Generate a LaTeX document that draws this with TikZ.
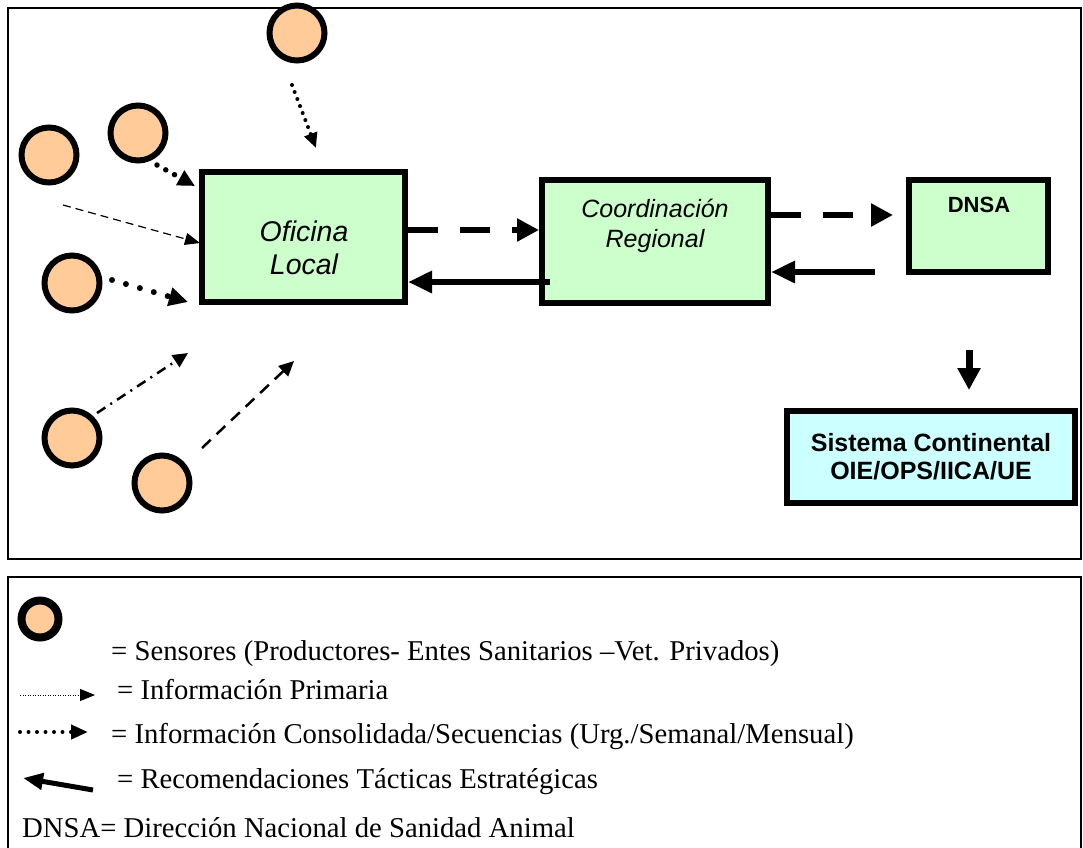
\documentclass[tikz,border=0pt]{standalone}
\usepackage{fontspec}
\setmainfont{Liberation Serif}
\setsansfont{Liberation Sans}
\usetikzlibrary{arrows.meta}
\definecolor{officegreen}{HTML}{CCFFCC}
\definecolor{continentcyan}{HTML}{CCFFFF}
\definecolor{sensorpeach}{HTML}{FFCC99}
\tikzset{sensor/.style={
    circle, draw, fill=sensorpeach,
    line width=6pt,
    minimum size=#1,
    inner sep=0pt
  },
  sensor/.default=55pt,
  unit box/.style={draw, line width=6pt, fill=officegreen, inner sep=0pt},
  unit text/.style={font=\sffamily\itshape, align=center, inner sep=0pt},
  frame/.style={draw, line width=2.8pt},
  dot flow/.style={line width=#1, line cap=round, dash pattern=on 0pt off 2.6*#1},
  big dash/.style={line width=6pt, dash pattern=on 30pt off 22pt,
    -{Triangle[length=22pt,width=22pt]}},
  advice/.style={line width=6pt, -{Triangle[length=24pt,width=21pt]}},
  key text/.style={anchor=base west, inner sep=0pt, font=\fontsize{28.7}{32}\selectfont}
}
\begin{document}
\begin{tikzpicture}[x=1pt,y=-1pt]
  \useasboundingbox (0,0) rectangle (1083,847);
  % frames
  \draw[frame] (8,8) rectangle (1081,559);
  \draw[frame] (8,577) rectangle (1081,870);
  % sensors
  \node[sensor] (s1) at (297,33) {};
  \node[sensor] (s2) at (138,133) {};
  \node[sensor] (s3) at (49,155) {};
  \node[sensor] (s4) at (72,283) {};
  \node[sensor] (s5) at (72,438) {};
  \node[sensor] (s6) at (162,483) {};
  % units
  \node[unit box, minimum width=203pt, minimum height=130pt] (oficina) at (303.5,237) {};
  \node[unit text, font=\sffamily\itshape\fontsize{28.5}{33}\selectfont] (oficinatext) at (304,248) {Oficina\\Local};
  \node[unit box, minimum width=226pt, minimum height=123pt] (coord) at (655,241.5) {};
  \node[unit text, font=\sffamily\itshape\fontsize{25}{30}\selectfont] (coordtext) at (655,226) {Coordinación\\Regional};
  \node[unit box, minimum width=139pt, minimum height=92pt] (dnsa) at (978.5,226) {};
  \node[unit text, font=\sffamily\bfseries\fontsize{22}{24}\selectfont] (dnsatext) at (979,205) {DNSA};
  \node[unit box, fill=continentcyan, minimum width=288pt, minimum height=92pt,
    align=center, font=\sffamily\bfseries\fontsize{25}{28}\selectfont] (sistema) at (931,457)
    {Sistema Continental\\OIE/OPS/IICA/UE};
  % free ends
  \coordinate (a1) at (292,85);   \coordinate (b1) at (316,148);
  \coordinate (a2) at (157,165);  \coordinate (b2) at (195,186);
  \coordinate (a3) at (63,205);   \coordinate (b3) at (200,243);
  \coordinate (a4) at (112,280);  \coordinate (b4) at (188,302);
  \coordinate (a5) at (97,413);   \coordinate (b5) at (188,353);
  \coordinate (a6) at (202,448);  \coordinate (b6) at (294,361);
  \coordinate (recstart) at (550,282);
  \coordinate (dnsain) at (893,215);
  \coordinate (dnsaout) at (875,272);
  \coordinate (conttop) at (969,350);
  % sensor flows
  \draw[dot flow=4pt, dash pattern=on 0pt off 7.5pt, -{Triangle[length=15pt,width=13pt]}] (a1) -- (b1);
  \draw[dot flow=5.5pt, dash pattern=on 0pt off 10pt, -{Triangle[length=17pt,width=16pt]}] (a2) -- (b2);
  \draw[line width=1.2pt, dash pattern=on 8pt off 5pt, -{Triangle[length=15pt,width=12pt]}] (a3) -- (b3);
  \draw[dot flow=6pt, dash pattern=on 0pt off 14.5pt, -{Triangle[length=19pt,width=18pt]}] (a4) -- (b4);
  \draw[line width=2.5pt, dash pattern=on 10pt off 6pt on 2pt off 6pt, -{Triangle[length=15pt,width=14pt]}] (a5) -- (b5);
  \draw[line width=2.5pt, dash pattern=on 12pt off 8pt, -{Triangle[length=15pt,width=14pt]}] (a6) -- (b6);
  % unit flows
  \draw[big dash] ([yshift=7pt]oficina.east) -- ([yshift=7pt]oficina.east -| coord.west);
  \draw[advice] (recstart) -- (recstart -| oficina.east);
  \draw[big dash] (dnsain -| coord.east) -- (dnsain);
  \draw[advice] (dnsaout) -- (dnsaout -| coord.east);
  \draw[line width=7pt, -{Triangle[length=22pt,width=22pt]}] (conttop) -- ([yshift=18pt]conttop |- sistema.north);
  % key
  \node[sensor=37pt, line width=8pt] (keysensor) at (40,619) {};
  \node[key text] (keysensortext) at (111,660) {= Sensores (Productores- Entes Sanitarios –Vet. Privados)};
  \coordinate (kp1) at (20,695);  \coordinate (kp2) at (95,695);
  \coordinate (kc1) at (20,732);  \coordinate (kc2) at (88,732);
  \coordinate (kr1) at (93,790);  \coordinate (kr2) at (23,778);
  \draw[line width=1pt, dash pattern=on 1pt off 1.5pt, -{Triangle[length=15pt,width=12pt]}] (kp1) -- (kp2);
  \node[key text] (keyprimtext) at (117,699) {= Información Primaria};
  \draw[dot flow=4pt, dash pattern=on 0pt off 8.5pt, -{Triangle[length=17pt,width=14pt]}] (kc1) -- (kc2);
  \node[key text] (keyconstext) at (111,743) {= Información Consolidada/Secuencias (Urg./Semanal/Mensual)};
  \draw[line width=5pt, -{Triangle[length=20pt,width=16pt]}] (kr1) -- (kr2);
  \node[key text] (keyrectext) at (117,788) {= Recomendaciones Tácticas Estratégicas};
  \node[key text] (keydnsatext) at (22,837) {DNSA= Dirección Nacional de Sanidad Animal};
\end{tikzpicture}
\end{document}
